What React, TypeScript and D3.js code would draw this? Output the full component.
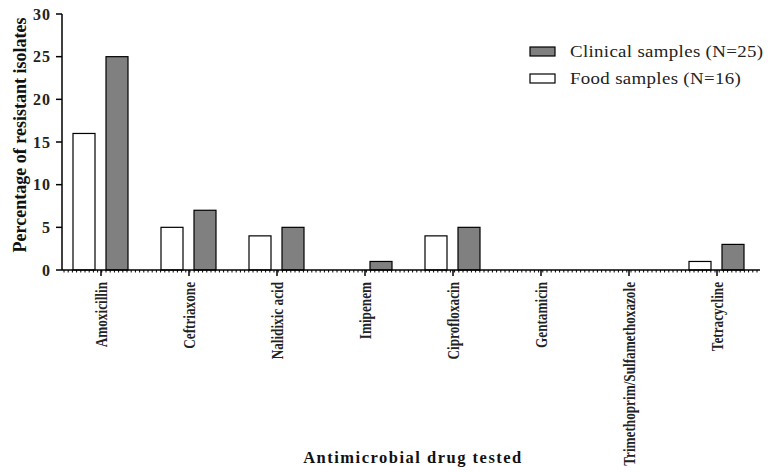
import React from "react";
import * as d3 from "d3";

const categories = [
  "Amoxicillin",
  "Ceftriaxone",
  "Nalidixic acid",
  "Imipenem",
  "Ciprofloxacin",
  "Gentamicin",
  "Trimethoprim/Sulfamethoxazole",
  "Tetracycline",
];
const foodValues = [16, 5, 4, 0, 4, 0, 0, 1];
const clinicalValues = [25, 7, 5, 1, 5, 0, 0, 3];
const yTicks = [0, 5, 10, 15, 20, 25, 30];
const seriesKeys = ["food", "clinical"];
const legendItems = [
  { key: "clinical", label: "Clinical samples (N=25)" },
  { key: "food", label: "Food samples (N=16)" },
];

const W = 771;
const H = 472;
const FONT = "'Liberation Serif', 'Times New Roman', serif";
const COLORS: Record<string, string> = { food: "#ffffff", clinical: "#808080" };

export default function App() {
  const x = d3.scaleBand<string>().domain(categories).range([57, 761]).paddingInner(0).paddingOuter(0);
  const xs = d3.scaleBand<string>().domain(seriesKeys).range([16, 71]).paddingInner(1 / 3);
  const y = d3.scaleLinear().domain([0, 30]).range([270, 14]);
  const axisX0 = 62;
  const axisX1 = 760;

  const data: Record<string, number[]> = { food: foodValues, clinical: clinicalValues };

  const dots = d3.range(axisX0 + 2, axisX1, 4.2);

  return (
    <svg
      width={W}
      height={H}
      style={{ position: "absolute", left: 0, top: 0, background: "#fff" }}
      fontFamily={FONT}
    >
      <rect width={W} height={H} fill="#fff" />
      {/* bars */}
      {categories.map((c, i) =>
        seriesKeys.map((k) => {
          const v = data[k][i];
          if (v <= 0) return null;
          const bx = (x(c) ?? 0) + (xs(k) ?? 0);
          return (
            <rect
              key={c + k}
              x={bx}
              y={y(v)}
              width={xs.bandwidth()}
              height={y(0) - y(v)}
              fill={COLORS[k]}
              stroke="#000"
              strokeWidth={1.2}
            />
          );
        })
      )}
      {/* y axis */}
      <line x1={axisX0} x2={axisX0} y1={y(30)} y2={y(0)} stroke="#000" strokeWidth={1.5} />
      {yTicks.map((t) => (
        <g key={t}>
          <line x1={axisX0 - 6} x2={axisX0} y1={y(t)} y2={y(t)} stroke="#000" strokeWidth={1.5} />
          <text
            x={51}
            y={y(t)}
            dy="0.35em"
            textAnchor="end"
            fontSize={16}
            fontWeight="bold"
            letterSpacing={1}
            fill="#222"
          >
            {t}
          </text>
        </g>
      ))}
      {/* x axis */}
      <line x1={axisX0} x2={axisX1} y1={y(0)} y2={y(0)} stroke="#000" strokeWidth={1.3} />
      {dots.map((d, i) => (
        <line key={i} x1={d} x2={d} y1={y(0)} y2={y(0) + 2.5} stroke="#000" strokeWidth={1} />
      ))}
      {categories.map((c) => {
        const cx = (x(c) ?? 0) + x.bandwidth() / 2;
        return (
          <g key={c}>
            <line x1={cx} x2={cx} y1={y(0)} y2={y(0) + 6} stroke="#000" strokeWidth={1.5} />
            <text
              transform={`translate(${cx + 6},${y(0) + 12}) rotate(-90) scale(0.8,1)`}
              textAnchor="end"
              fontSize={16.5}
              fontWeight="bold"
              fill="#222"
            >
              {c}
            </text>
          </g>
        );
      })}
      {/* axis titles */}
      <text
        transform={`translate(26,${135}) rotate(-90)`}
        textAnchor="middle"
        fontSize={18}
        fontWeight="bold"
        fill="#111"
      >
        Percentage of resistant isolates
      </text>
      <text
        x={413}
        y={463}
        textAnchor="middle"
        fontSize={16.5}
        fontWeight="bold"
        letterSpacing={1.5}
        fill="#111"
      >
        Antimicrobial drug tested
      </text>
      {/* legend */}
      {legendItems.map((it, i) => (
        <g key={it.key} transform={`translate(530,${47 + i * 27})`}>
          <rect x={0} y={0} width={25} height={9} fill={COLORS[it.key]} stroke="#000" strokeWidth={1.2} />
          <text transform="translate(40,10) scale(1.08,1)" fontSize={17.5} letterSpacing={0.3} fill="#222">
            {it.label}
          </text>
        </g>
      ))}
    </svg>
  );
}
